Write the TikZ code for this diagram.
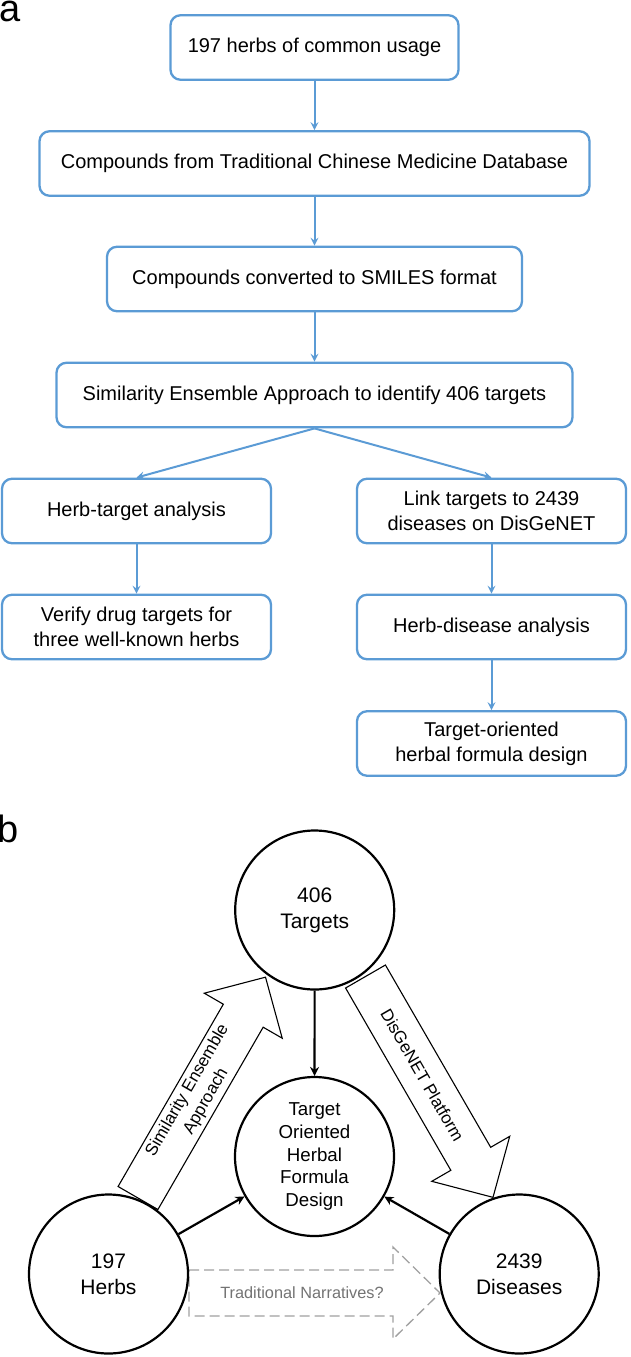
\documentclass[tikz,border=0pt]{standalone}
\usepackage{fontspec}
\setmainfont{Liberation Sans}
\usetikzlibrary{arrows.meta}
\definecolor{flowblue}{RGB}{91,155,213}
\definecolor{dashgray}{RGB}{160,160,160}
\definecolor{textgray}{RGB}{115,115,115}
\begin{document}
\begin{tikzpicture}[x=1pt,y=-1pt,
  box/.style={draw=flowblue, line width=2.3pt, rounded corners=10pt, minimum height=64.5pt,
    inner sep=2pt, align=center, font=\fontsize{20}{25}\selectfont},
  flow/.style={draw=flowblue, line width=2pt, -{Stealth[length=8pt,width=8pt,inset=3pt]}},
  circ/.style={circle, draw=black, line width=2.2pt, fill=white, minimum size=159pt,
    inner sep=0pt, align=center, font=\fontsize{21}{26}\selectfont},
  link/.style={draw=black, line width=2.2pt, -{Stealth[length=9pt,width=9pt,inset=3pt]}},
  hollow/.style={draw=black, line width=1.1pt, fill=white, line join=miter},
  dashhollow/.style={draw=dashgray, line width=1.3pt, dash pattern=on 10pt off 5pt},
  panel/.style={inner sep=0pt, anchor=base west, font=\fontsize{38}{38}\selectfont},
  arrowtext/.style={align=center, font=\fontsize{17}{21.5}\selectfont}
]
\useasboundingbox (0,0) rectangle (630,1357);

% panel labels
\node[panel] (la) at (-1,21.5) {a};
\node[panel] (lb) at (-2.5,842) {b};

% ---------- panel a ----------
\node[box, minimum width=288pt] (b1) at (314.5,47.5) {197 herbs of common usage};
\node[box, minimum width=550pt] (b2) at (314.5,163.5) {Compounds from Traditional Chinese Medicine Database};
\node[box, minimum width=415pt] (b3) at (314.5,279) {Compounds converted to SMILES format};
\node[box, minimum width=516pt] (b4) at (314.5,395) {Similarity Ensemble Approach to identify 406 targets};
\node[box, minimum width=269pt] (b5) at (136.5,511) {Herb-target analysis};
\node[box, minimum width=269pt] (b6) at (491.5,511) {Link targets to 2439\\diseases on DisGeNET};
\node[box, minimum width=269pt] (b7) at (136.5,627) {Verify drug targets for\\three well-known herbs};
\node[box, minimum width=269pt] (b8) at (491.5,627) {Herb-disease analysis};
\node[box, minimum width=269pt] (b9) at (491.5,743.5) {Target-oriented\\herbal formula design};

\draw[flow] (b1.south) -- (b2.north);
\draw[flow] (b2.south) -- (b3.north);
\draw[flow] (b3.south) -- (b4.north);
\draw[flow] (b4.south) -- (b5.north);
\draw[flow] (b4.south) -- (b6.north);
\draw[flow] (b5.south) -- (b7.north);
\draw[flow] (b6.south) -- (b8.north);
\draw[flow] (b8.south) -- (b9.north);

% ---------- panel b ----------
% hollow arrow: herbs -> targets
\begin{scope}[shift={(138,1198)}, rotate=60]
  \draw[hollow] (0,-23) -- (210.5,-23) -- (210.5,-45) -- (255,0) -- (210.5,45) -- (210.5,23) -- (0,23) -- cycle;
  \node[arrowtext, rotate=60] (sea) at (117.7,0) {Similarity Ensemble\\Approach};
\end{scope}
% hollow arrow: targets -> diseases
\begin{scope}[shift={(365.5,976.5)}, rotate=-60]
  \draw[hollow] (0,-23) -- (210.5,-23) -- (210.5,-45) -- (255,0) -- (210.5,45) -- (210.5,23) -- (0,23) -- cycle;
  \node[arrowtext, rotate=-60] (dgn) at (114,0) {DisGeNET Platform};
\end{scope}
% dashed hollow arrow: herbs -> diseases
\draw[dashhollow] (189,1270) -- (393,1270) -- (393,1247) -- (440,1293) -- (393,1339) -- (393,1316) -- (189,1316) -- cycle;
\node[text=textgray, font=\fontsize{16.3}{20}\selectfont] (tn) at (302,1293) {Traditional Narratives?};

% circles
\node[circ] (targets) at (314.7,910) {406\\Targets};
\node[circ, font=\fontsize{18.7}{22.8}\selectfont] (tofd) at (314.5,1156.5) {Target\\Oriented\\Herbal\\Formula\\Design};
\node[circ] (herbs) at (108.5,1274) {197\\Herbs};
\node[circ] (diseases) at (519.2,1274) {2439\\Diseases};

\draw[link] (targets) -- (tofd);
\draw[link] (herbs) -- (tofd);
\draw[link] (diseases) -- (tofd);
\end{tikzpicture}
\end{document}
